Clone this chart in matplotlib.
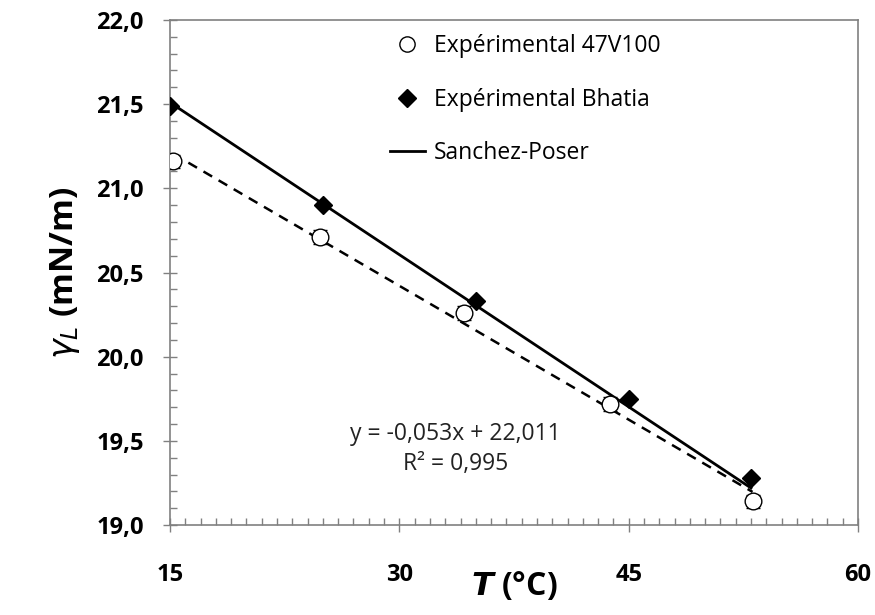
import matplotlib
matplotlib.use("Agg")
import matplotlib.pyplot as plt
from matplotlib.ticker import MultipleLocator, FixedLocator, FixedFormatter

# ---- data ----
t_47v100 = [15.2, 24.8, 34.2, 43.8, 53.1]
g_47v100 = [21.16, 20.71, 20.26, 19.72, 19.14]
err_47v100 = [0.04, 0.04, 0.04, 0.04, 0.04]

t_bhatia = [15, 25, 35, 45, 53]
g_bhatia = [21.49, 20.90, 20.33, 19.75, 19.28]

t_sp = [15, 53]
g_sp = [21.51, 19.22]

trend_slope = -0.053
trend_intercept = 22.011
trend_text = "y = -0,053x + 22,011\nR² = 0,995"

xticks = [15, 30, 45, 60]
xticklabels = ["15", "30", "45", "60"]
yticks = [19.0, 19.5, 20.0, 20.5, 21.0, 21.5, 22.0]
yticklabels = ["19,0", "19,5", "20,0", "20,5", "21,0", "21,5", "22,0"]

plt.rcParams['font.family'] = ['Open Sans', 'DejaVu Sans']

fig = plt.figure(figsize=(8.75, 6.15), dpi=100)
ax = fig.add_axes([0.1943, 0.1463, 0.7863, 0.8212])

# trendline (dashed)
tx = [min(t_47v100) + 1.0, max(t_47v100)]
ty = [trend_slope * x + trend_intercept for x in tx]
ax.plot(tx, ty, linestyle=(0, (4, 3)), color='black', lw=1.8, zorder=2)

# Sanchez-Poser
h3, = ax.plot(t_sp, g_sp, color='black', lw=2.0, label='Sanchez-Poser', zorder=3)

# experimental 47V100
ax.errorbar(t_47v100, g_47v100, yerr=err_47v100, fmt='o', mfc='white', mec='black',
            ms=12, mew=1.0, ecolor='black', elinewidth=1.0, capsize=5, capthick=1.0,
            zorder=4)
h1, = ax.plot([], [], 'o', mfc='white', mec='black', ms=11, mew=1.0,
              label='Expérimental 47V100')
# Bhatia
h2, = ax.plot(t_bhatia, g_bhatia, 'D', color='black', ms=9.5, ls='none',
              label='Expérimental Bhatia', zorder=5)

ax.set_xlim(15, 60)
ax.set_ylim(19.0, 22.0)
ax.xaxis.set_major_locator(FixedLocator(xticks))
ax.xaxis.set_major_formatter(FixedFormatter(xticklabels))
ax.yaxis.set_major_locator(FixedLocator(yticks))
ax.yaxis.set_major_formatter(FixedFormatter(yticklabels))
ax.xaxis.set_minor_locator(MultipleLocator(1))
ax.yaxis.set_minor_locator(MultipleLocator(0.1))

ax.tick_params(axis='both', which='major', direction='inout', length=10, width=1,
               color='#808080', labelsize=17)
ax.tick_params(axis='both', which='minor', direction='in', length=5, width=1,
               color='#808080')
ax.tick_params(axis='x', which='major', pad=22)
ax.tick_params(axis='y', which='major', pad=14)
for lab in ax.get_xticklabels() + ax.get_yticklabels():
    lab.set_fontweight('bold')

for s in ax.spines.values():
    s.set_color('#808080')
    s.set_linewidth(1.2)

ax.set_xlabel(r'$\boldsymbol{T}$ (°C)', fontsize=23, fontweight='bold', labelpad=-12)
ax.set_ylabel(r'$\boldsymbol{\gamma_L}$ (mN/m)', fontsize=24, fontweight='bold', labelpad=10)

ax.text(0.415, 0.15, trend_text, transform=ax.transAxes, ha='center', va='center',
        fontsize=16.5, linespacing=1.35, color='#222222')

leg = ax.legend(handles=[h1, h2, h3], loc='upper left', bbox_to_anchor=(0.3, 1.0),
                frameon=False, fontsize=16.5, handlelength=1.5, handletextpad=0.4,
                labelspacing=1.3, borderaxespad=0.2)

fig.savefig('out.png', dpi=100)
